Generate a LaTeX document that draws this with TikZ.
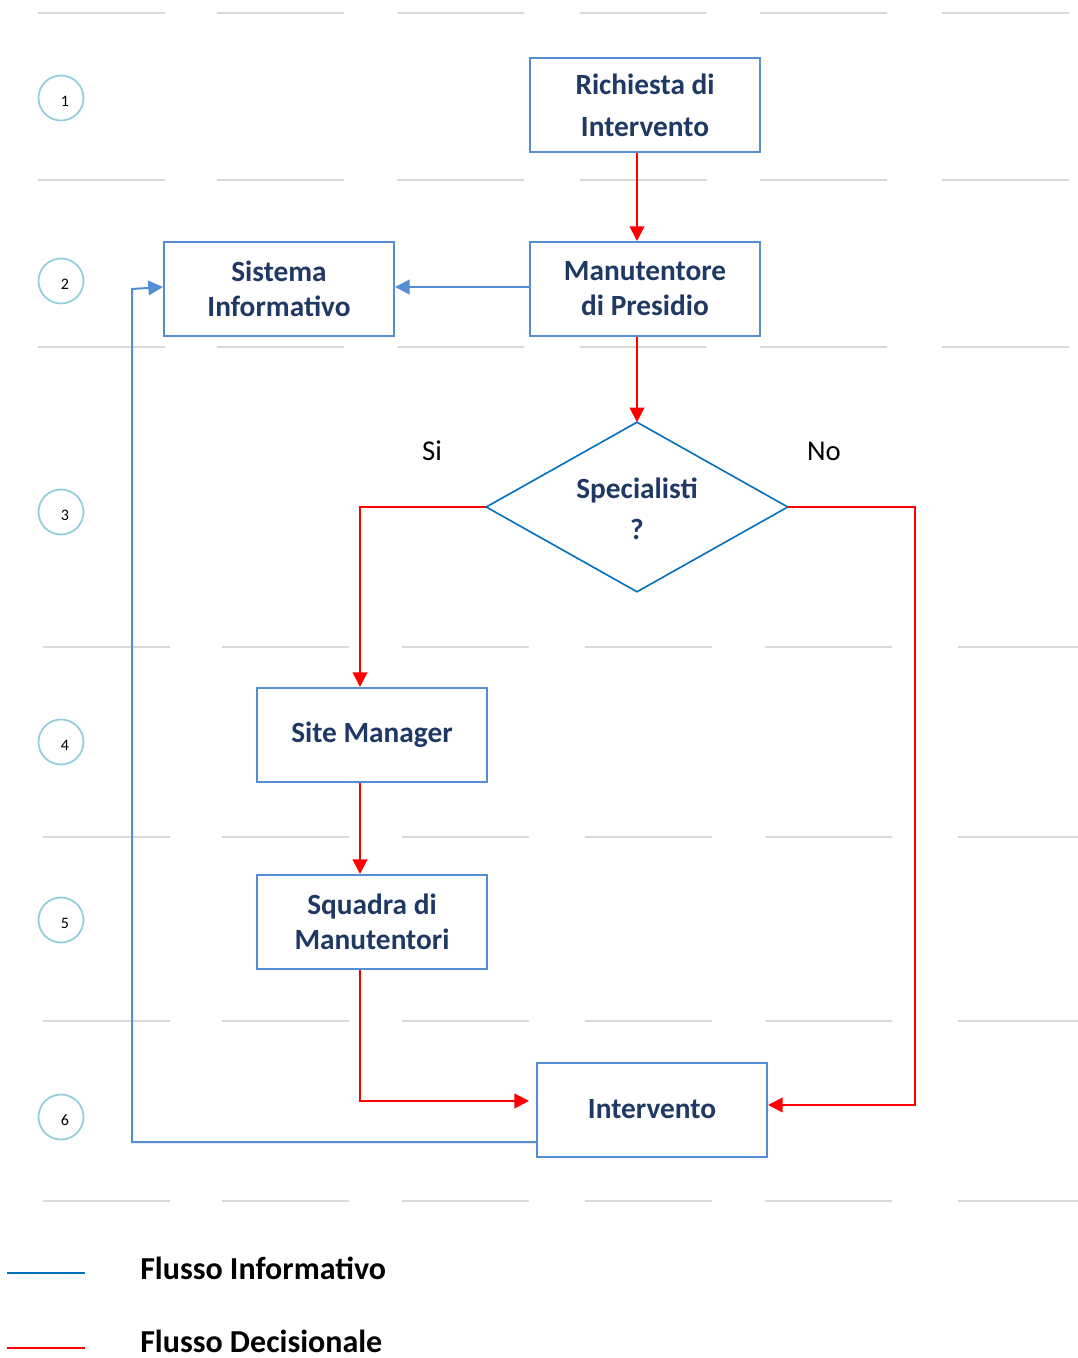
\documentclass[tikz,border=0pt]{standalone}
\usepackage{fontspec}
\setmainfont{Carlito}
\usetikzlibrary{arrows.meta}

\definecolor{boxblue}{HTML}{558ED5}
\definecolor{diablue}{HTML}{0070C0}
\definecolor{navy}{HTML}{1F3864}
\definecolor{ringcol}{HTML}{92CDDC}
\definecolor{gridgray}{HTML}{D9D9D9}
\definecolor{flowred}{HTML}{FF0000}

\tikzset{
  stepbox/.style={rectangle, draw=boxblue, line width=1.5pt, fill=white,
    minimum width=172.5pt, minimum height=70.5pt, inner sep=0pt, align=center,
    text=navy, font=\fontsize{22}{26.25}\selectfont\bfseries},
  decision/.style={rectangle, minimum width=225.75pt, minimum height=126.75pt,
    inner sep=0pt, align=center,
    text=navy, font=\fontsize{22}{30.75}\selectfont\bfseries},
  ring/.style={circle, draw=ringcol, line width=1.3pt, minimum size=33.75pt, inner sep=0pt},
  ringnum/.style={font=\fontsize{12}{14}\selectfont, text=black, inner sep=0pt},
  rowline/.style={draw=gridgray, line width=1.6pt},
  redflow/.style={draw=flowred, line width=1.5pt, -{Triangle[length=11pt,width=11pt]}},
  blueflow/.style={draw=boxblue, line width=1.5pt, -{Triangle[length=11pt,width=11pt]}},
  answer/.style={font=\fontsize{21.5}{24}\selectfont, text=black, inner sep=0pt},
  legendtext/.style={font=\fontsize{24}{28}\selectfont\bfseries, text=black, inner sep=0pt, anchor=base west}
}

\begin{document}
\begin{tikzpicture}[x=0.75pt, y=-0.75pt]
  \useasboundingbox (0,0) rectangle (1077,1358);
  \fill[white] (0,0) rectangle (1077,1358);

  % row separators
  \foreach \yy in {13,180,347}
    \foreach \xa in {38,217,397,580,760,942}
      \draw[rowline] (\xa,\yy) -- ++(127,0);
  \foreach \yy in {647,837,1021,1201}
    \foreach \xa in {43,222,402,585,765,958}
      \draw[rowline] (\xa,\yy) -- ++(127,0);

  % row numbers
  \foreach \n/\yy in {1/98,2/281,3/512,4/742,5/920,6/1117}{
    \node[ring] (r\n) at (61,\yy) {};
    \node[ringnum] (n\n) at ([xshift=3pt,yshift=-2.5pt]r\n.center) {\n};
  }

  % process nodes
  \node[stepbox, font=\fontsize{22}{31.5}\selectfont\bfseries] (req) at (645,105) {Richiesta di\\Intervento};
  \node[stepbox] (man) at (645,289) {Manutentore\\di Presidio};
  \node[stepbox] (sis) at (279,289) {Sistema\\Informativo};
  \node[decision] (dec) at (637,509) {Specialisti\\?};
  \node[stepbox] (site) at (372,735) {Site Manager};
  \node[stepbox] (squ) at (372,922) {Squadra di\\Manutentori};
  \node[stepbox] (int) at (652,1109.5) {Intervento};

  % decision shape outline
  \draw[draw=diablue, line width=1.2pt]
    ([yshift=1.5pt]dec.north) -- ([yshift=1.5pt]dec.east) -- ([yshift=1.5pt]dec.south)
    -- ([yshift=1.5pt]dec.west) -- cycle;

  % branch labels
  \node[answer] (si) at (432,451) {Si};
  \node[answer] (no) at (824,451) {No};

  % connector columns
  \coordinate (lcol) at (132,0);
  \coordinate (mcol) at (360,0);
  \coordinate (rcol) at (915,0);
  \coordinate (dtop) at ([yshift=1.5pt]dec.north);
  \coordinate (dleft) at ([yshift=1.5pt]dec.west);
  \coordinate (dright) at ([yshift=1.5pt]dec.east);

  % decision flow
  \draw[redflow] (dtop |- req.south) -- (dtop |- man.north);
  \draw[redflow] (dtop |- man.south) -- (dtop);
  \draw[redflow] (dleft) -| (mcol |- site.north);
  \draw[redflow] (mcol |- site.south) -- (mcol |- squ.north);
  \draw[redflow, shorten >=5.25pt] (mcol |- squ.south) |- ([yshift=6.4pt]int.west);
  \draw[redflow] (dright) -- (dright -| rcol) |- ([yshift=3.4pt]int.east);

  % information flow
  \draw[blueflow] ([yshift=1.5pt]man.west) -- ([yshift=1.5pt]sis.east);
  \draw[blueflow] ([yshift=-24.4pt]int.west) -| (lcol |- sis.west) -- ([yshift=1.5pt]sis.west);

  % legend
  \draw[draw=diablue, line width=1.5pt] (7,1273) -- (85,1273);
  \draw[draw=flowred, line width=1.5pt] (7,1348) -- (85,1348);
  \node[legendtext] (lgi) at (140,1279) {Flusso Informativo};
  \node[legendtext] (lgd) at (140,1352) {Flusso Decisionale};
\end{tikzpicture}
\end{document}
